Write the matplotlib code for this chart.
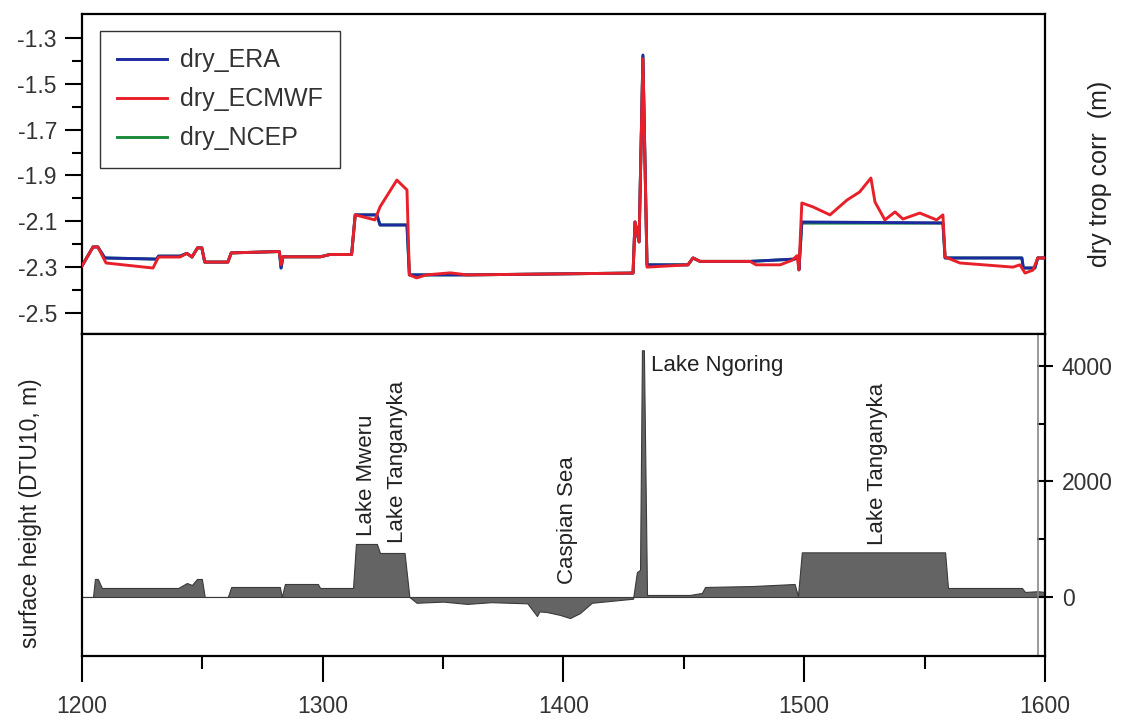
import matplotlib
matplotlib.use("Agg")
import matplotlib.pyplot as plt
from matplotlib.ticker import MultipleLocator, FixedLocator

plt.rcParams["font.family"] = ["Liberation Sans", "DejaVu Sans"]

# ---- top panel: dry tropospheric correction (m) ----
era_x = [1200, 1204.6, 1206.6, 1209.5, 1231, 1231.8, 1240.7, 1243.6, 1245.7, 1248, 1249.8, 1251,
         1260.6, 1262, 1282, 1282.7, 1283.5, 1299, 1303, 1312, 1313.5, 1322.5, 1323.8, 1335, 1336,
         1343, 1353, 1360, 1428.9, 1429.7, 1431.4, 1433, 1434.7, 1451.7, 1453.8, 1456.7, 1477.5,
         1496, 1497.5, 1497.8, 1499, 1557.6, 1558.5, 1590.4, 1591, 1595.8, 1597, 1600]
era_y = [-2.295, -2.212, -2.212, -2.26, -2.265, -2.252, -2.252, -2.24, -2.256, -2.216, -2.216, -2.278,
         -2.278, -2.238, -2.232, -2.304, -2.255, -2.255, -2.245, -2.245, -2.072, -2.072, -2.116, -2.116,
         -2.334, -2.334, -2.334, -2.334, -2.326, -2.103, -2.19, -1.374, -2.29, -2.29, -2.26, -2.275,
         -2.275, -2.265, -2.255, -2.312, -2.103, -2.107, -2.26, -2.26, -2.304, -2.304, -2.26, -2.26]
ncep_y = [-2.295, -2.212, -2.212, -2.26, -2.265, -2.252, -2.252, -2.24, -2.256, -2.216, -2.216, -2.278,
          -2.278, -2.238, -2.232, -2.304, -2.255, -2.255, -2.245, -2.245, -2.072, -2.072, -2.116, -2.116,
          -2.334, -2.334, -2.334, -2.334, -2.326, -2.103, -2.19, -1.38, -2.29, -2.29, -2.26, -2.275,
          -2.275, -2.265, -2.255, -2.312, -2.108, -2.108, -2.26, -2.26, -2.304, -2.304, -2.26, -2.26]
ecmwf_x = [1200, 1204.6, 1206.6, 1210, 1229.5, 1231.8, 1240.7, 1243.6, 1245.7, 1248, 1249.8, 1251,
           1260.6, 1262, 1282, 1282.7, 1283.5, 1299, 1303, 1312, 1313.5, 1321.7, 1323.8, 1330.8, 1335,
           1336, 1339, 1343, 1353, 1360, 1428.9, 1429.7, 1431.4, 1433, 1434.7, 1451.7, 1453.8, 1456.7,
           1477.5, 1480, 1490, 1495, 1497, 1497.8, 1499, 1503.6, 1510.7, 1517.8, 1523, 1527.7, 1529.4,
           1533.5, 1537.7, 1541, 1548, 1555, 1557.6, 1558.5, 1564.7, 1586.7, 1589.6, 1591.7, 1595, 1597, 1600]
ecmwf_y = [-2.295, -2.212, -2.212, -2.282, -2.304, -2.256, -2.256, -2.24, -2.256, -2.216, -2.216, -2.278,
           -2.278, -2.238, -2.232, -2.29, -2.255, -2.255, -2.245, -2.245, -2.072, -2.094, -2.037, -1.92,
           -1.963, -2.334, -2.347, -2.334, -2.325, -2.334, -2.326, -2.103, -2.19, -1.39, -2.3, -2.29,
           -2.26, -2.275, -2.275, -2.29, -2.29, -2.27, -2.25, -2.312, -2.02, -2.037, -2.072, -2.007,
           -1.972, -1.911, -2.016, -2.094, -2.059, -2.09, -2.064, -2.094, -2.072, -2.256, -2.282, -2.3,
           -2.29, -2.326, -2.313, -2.26, -2.26]

# ---- bottom panel: surface height (DTU10, m) ----
h_x = [1200, 1204.6, 1205.4, 1206.6, 1208.3, 1240, 1243.6, 1245.7, 1247.8, 1249.8, 1251, 1260.6, 1262,
       1282.2, 1283, 1284.3, 1298, 1298.9, 1312.6, 1313.8, 1322.5, 1323.8, 1334, 1336, 1339, 1350, 1360,
       1370, 1385, 1389, 1390, 1393, 1398.5, 1402.7, 1406.8, 1411.8, 1428.9, 1430.5, 1431.8, 1432.6,
       1433.4, 1434.7, 1452.5, 1457.5, 1458.8, 1478.7, 1496, 1497.4, 1499, 1558.5, 1559.7, 1590.4,
       1591.7, 1597, 1600]
h_y = [0, 0, 312, 312, 156, 156, 242, 208, 312, 312, 0, 0, 173, 173, 0, 225, 225, 156, 156, 918, 918,
       762, 762, 0, -100, -80, -120, -90, -110, -330, -250, -260, -310, -365, -280, -100, -30, 430, 470,
       4272, 4272, 35, 35, 70, 173, 190, 225, 17, 773, 773, 156, 156, 87, 100, 87]

lake_names = ["Lake Mweru", "Lake Tanganyka", "Caspian Sea", "Lake Tanganyka"]
lake_x = [1318, 1331, 1401.5, 1530.5]
lake_y = [1060, 930, 230, 900]

fig = plt.figure(figsize=(11.21, 7.22), dpi=100)
ax1 = fig.add_axes([0.0731, 0.5374, 0.8591, 0.4432])
ax2 = fig.add_axes([0.0731, 0.0914, 0.8591, 0.4460])

ax1.plot(era_x, ncep_y, color="#1b8a3b", lw=2.1, label="dry_NCEP", zorder=2)
ax1.plot(era_x, era_y, color="#1c2aa0", lw=2.1, label="dry_ERA", zorder=3)
ax1.plot(ecmwf_x, ecmwf_y, color="#e8202a", lw=2.1, label="dry_ECMWF", zorder=4)
ax1.set_xlim(1200, 1600)
ax1.set_ylim(-2.592, -1.195)
ax1.yaxis.set_major_locator(FixedLocator([-1.3, -1.5, -1.7, -1.9, -2.1, -2.3, -2.5]))
ax1.yaxis.set_minor_locator(FixedLocator([-1.4, -1.6, -1.8, -2.0, -2.2, -2.4]))
ax1.set_yticklabels(["-1.3", "-1.5", "-1.7", "-1.9", "-2.1", "-2.3", "-2.5"])
ax1.tick_params(axis="y", which="major", direction="out", length=12, width=1.5, labelsize=16.5,
                pad=6, labelcolor="#333333")
ax1.tick_params(axis="y", which="minor", direction="out", length=7, width=1.5)
ax1.tick_params(axis="x", which="both", bottom=False, labelbottom=False)
for s in ax1.spines.values():
    s.set_linewidth(1.6)

h, l = ax1.get_legend_handles_labels()
order = [1, 2, 0]
leg = ax1.legend([h[i] for i in order], [l[i] for i in order], loc="upper left",
                 bbox_to_anchor=(0.0187, 0.947), borderaxespad=0, fontsize=18,
                 fancybox=False, framealpha=1, edgecolor="#333333", handlelength=2.0,
                 handletextpad=0.5, labelspacing=0.6, borderpad=0.7)
leg.get_frame().set_linewidth(1.0)
for t in leg.get_texts():
    t.set_color("#333333")

ax2.fill_between(h_x, h_y, 0, facecolor="#646464", edgecolor="#3a3a3a", lw=0.8)
ax2.axvline(1597, color="#8a8a8a", lw=1.2)
ax2.set_xlim(1200, 1600)
ax2.set_ylim(-1022, 4554)
ax2.yaxis.tick_right()
ax2.yaxis.set_major_locator(FixedLocator([0, 2000, 4000]))
ax2.yaxis.set_minor_locator(FixedLocator([1000, 3000]))
ax2.tick_params(axis="y", which="major", direction="inout", length=12, width=1.5, labelsize=16.5,
                pad=6, labelcolor="#333333")
ax2.tick_params(axis="y", which="minor", direction="in", length=6, width=1.5)
ax2.xaxis.set_major_locator(MultipleLocator(100))
ax2.xaxis.set_minor_locator(MultipleLocator(50))
ax2.tick_params(axis="x", which="major", direction="out", length=19, width=1.5, labelsize=16.5,
                pad=9, labelcolor="#333333")
ax2.tick_params(axis="x", which="minor", direction="out", length=9.5, width=1.5)
for s in ax2.spines.values():
    s.set_linewidth(1.6)

for name, x, y in zip(lake_names, lake_x, lake_y):
    ax2.text(x, y, name, rotation=90, ha="center", va="bottom", fontsize=16, color="#222222")
ax2.text(1436.3, 4000, "Lake Ngoring", ha="left", va="center", fontsize=16, color="#222222")

fig.text(0.981, 0.759, "dry trop corr  (m)", rotation=90, ha="center", va="center",
         fontsize=18, color="#222222")
fig.text(0.027, 0.289, "surface height (DTU10, m)", rotation=90, ha="center", va="center",
         fontsize=16.5, color="#222222")

fig.savefig("out.png", dpi=100)
